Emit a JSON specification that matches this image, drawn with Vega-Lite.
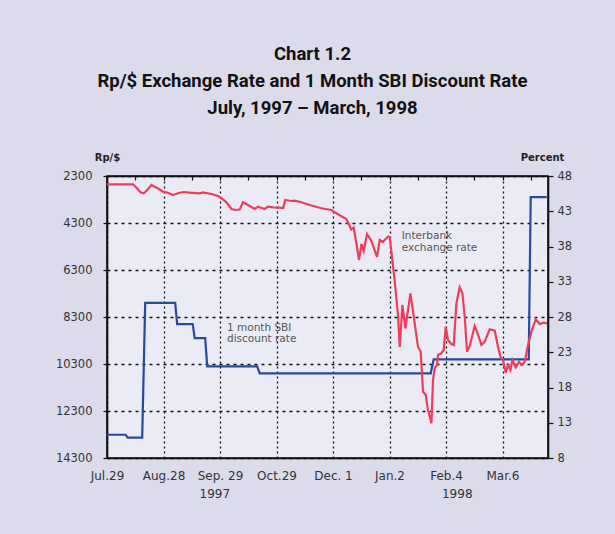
{
  "$schema": "https://vega.github.io/schema/vega-lite/v6.json",
  "width": 441,
  "height": 282,
  "autosize": {"type": "none"},
  "padding": {"left": 107, "top": 176, "right": 67, "bottom": 76},
  "background": "#dcdbec",
  "title": {
    "text": ["Chart 1.2", "Rp/$ Exchange Rate and 1 Month SBI Discount Rate", "July, 1997 – March, 1998"],
    "font": "Roboto",
    "fontSize": 18.5,
    "fontWeight": "bold",
    "color": "#111111",
    "lineHeight": 27,
    "anchor": "middle",
    "frame": "group",
    "dx": -15,
    "offset": 35
  },
  "datasets": {
    "rate": [
      {"t":0,"v":2653},{"t":0.46,"v":2653},{"t":0.531,"v":2823},{"t":0.591,"v":2994},{"t":0.65,"v":3036},{"t":0.697,"v":2938},{"t":0.786,"v":2683},{"t":0.844,"v":2755},{"t":0.92,"v":2853},{"t":0.991,"v":2968},{"t":1.08,"v":3011},{"t":1.168,"v":3108},{"t":1.257,"v":3036},{"t":1.345,"v":2981},{"t":1.464,"v":3011},{"t":1.641,"v":3036},{"t":1.699,"v":3002},{"t":1.848,"v":3066},{"t":1.965,"v":3151},{"t":2.03,"v":3249},{"t":2.113,"v":3419},{"t":2.202,"v":3704},{"t":2.278,"v":3747},{"t":2.349,"v":3725},{"t":2.407,"v":3419},{"t":2.496,"v":3534},{"t":2.614,"v":3704},{"t":2.673,"v":3606},{"t":2.791,"v":3704},{"t":2.85,"v":3606},{"t":2.938,"v":3632},{"t":3.057,"v":3649},{"t":3.119,"v":3662},{"t":3.154,"v":3321},{"t":3.264,"v":3364},{"t":3.322,"v":3351},{"t":3.441,"v":3419},{"t":3.588,"v":3534},{"t":3.795,"v":3674},{"t":3.972,"v":3747},{"t":4.06,"v":3887},{"t":4.149,"v":4015},{"t":4.237,"v":4130},{"t":4.278,"v":4342},{"t":4.322,"v":4576},{"t":4.366,"v":4491},{"t":4.414,"v":5164},{"t":4.46,"v":5874},{"t":4.503,"v":5193},{"t":4.543,"v":5491},{"t":4.602,"v":4768},{"t":4.68,"v":5066},{"t":4.779,"v":5747},{"t":4.827,"v":5023},{"t":4.88,"v":5108},{"t":4.973,"v":4874},{"t":5.004,"v":4896},{"t":5.092,"v":6768},{"t":5.15,"v":8214},{"t":5.181,"v":9576},{"t":5.228,"v":7789},{"t":5.281,"v":8780},{"t":5.37,"v":7291},{"t":5.446,"v":8568},{"t":5.504,"v":9563},{"t":5.552,"v":9776},{"t":5.593,"v":11478},{"t":5.641,"v":11618},{"t":5.681,"v":12257},{"t":5.742,"v":12823},{"t":5.77,"v":10980},{"t":5.8,"v":10482},{"t":5.841,"v":10342},{"t":5.858,"v":9916},{"t":5.918,"v":9844},{"t":5.959,"v":9704},{"t":5.995,"v":8712},{"t":6.035,"v":9278},{"t":6.096,"v":9448},{"t":6.136,"v":9491},{"t":6.184,"v":7717},{"t":6.242,"v":7036},{"t":6.29,"v":7291},{"t":6.331,"v":8287},{"t":6.372,"v":9776},{"t":6.419,"v":9534},{"t":6.508,"v":8683},{"t":6.549,"v":8925},{"t":6.627,"v":9491},{"t":6.685,"v":9350},{"t":6.773,"v":8823},{"t":6.862,"v":8882},{"t":6.92,"v":9563},{"t":6.963,"v":9989},{"t":7.009,"v":10129},{"t":7.057,"v":10670},{"t":7.097,"v":10342},{"t":7.14,"v":10555},{"t":7.175,"v":10129},{"t":7.234,"v":10440},{"t":7.292,"v":10202},{"t":7.335,"v":10342},{"t":7.393,"v":10202},{"t":7.451,"v":9491},{"t":7.512,"v":8925},{"t":7.588,"v":8397},{"t":7.658,"v":8597},{"t":7.729,"v":8542},{"t":7.788,"v":8568}
    ],
    "sbi": [
      {"t":0,"p":11.3},{"t":0.331,"p":11.3},{"t":0.366,"p":10.9},{"t":0.623,"p":10.9},{"t":0.676,"p":30},{"t":1.207,"p":30},{"t":1.242,"p":27},{"t":1.517,"p":27},{"t":1.552,"p":25},{"t":1.738,"p":25},{"t":1.773,"p":21},{"t":2.658,"p":21},{"t":2.703,"p":20},{"t":5.729,"p":20},{"t":5.782,"p":22},{"t":7.464,"p":22},{"t":7.499,"p":45},{"t":7.782,"p":45}
    ],
    "notes": [
      {"t":5.216,"v":4860,"label":"Interbank"},
      {"t":5.216,"v":5345,"label":"exchange rate"},
      {"t":2.124,"v":8760,"label":"1 month SBI"},
      {"t":2.124,"v":9245,"label":"discount rate"}
    ]
  },
  "layer": [
    {
      "data": {"name": "sbi"},
      "mark": {"type": "line", "color": "#2a48a0", "strokeWidth": 2.2, "clip": false},
      "encoding": {
        "x": {
          "field": "t", "type": "quantitative",
          "scale": {"domain": [0, 7.805], "nice": false, "zero": false},
          "axis": {
            "orient": "top", "title": null, "labels": false, "grid": false,
            "values": [0.5,1,1.5,2,2.5,3,3.5,4,4.5,5,5.5,6,6.5,7,7.5],
            "ticks": true, "tickSize": -4, "tickColor": "#111111", "tickWidth": 1.2,
            "domain": true, "domainColor": "#111111", "domainWidth": 1.6
          }
        },
        "y": {
          "field": "p", "type": "quantitative",
          "scale": {"domain": [8, 48], "nice": false, "zero": false},
          "axis": {
            "orient": "right", "values": [8,13,18,23,28,33,38,43,48],
            "grid": false, "tickSize": 5, "tickColor": "#111111", "tickWidth": 1.2,
            "domainColor": "#111111", "domainWidth": 1.6,
            "labelPadding": 4, "labelFont": "DejaVu Sans", "labelFontSize": 11.5, "labelColor": "#333333",
            "title": "Percent", "titleAngle": 0, "titleX": -6, "titleY": -19,
            "titleAlign": "center", "titleBaseline": "middle",
            "titleFont": "DejaVu Sans", "titleFontSize": 10, "titleFontWeight": "bold", "titleColor": "#222222"
          }
        }
      }
    },
    {
      "data": {"name": "rate"},
      "mark": {"type": "line", "color": "#ef3d5b", "strokeWidth": 2.2, "clip": false},
      "encoding": {
        "x": {
          "field": "t", "type": "quantitative",
          "scale": {"domain": [0, 7.805], "nice": false, "zero": false},
          "axis": {
            "orient": "bottom", "title": null,
            "values": [0,1,2,3,4,5,6,7],
            "labelExpr": "['Jul.29','Aug.28','Sep. 29','Oct.29','Dec. 1','Jan.2','Feb.4','Mar.6'][datum.value]",
            "labelFlush": false, "labelOverlap": false, "labelBound": false,
            "ticks": false, "labelPadding": 12,
            "labelFont": "DejaVu Sans", "labelFontSize": 12, "labelColor": "#333333",
            "grid": true, "gridColor": "#111111", "gridDash": [2, 3], "gridWidth": 1.3,
            "domainColor": "#111111", "domainWidth": 1.6
          }
        },
        "y": {
          "field": "v", "type": "quantitative",
          "scale": {"domain": [2300, 14300], "reverse": true, "nice": false, "zero": false},
          "axis": {
            "orient": "left", "values": [2300,4300,6300,8300,10300,12300,14300], "format": "d",
            "grid": true, "gridColor": "#111111", "gridDash": [3, 4], "gridWidth": 1.3,
            "tickSize": 4, "tickColor": "#111111", "tickWidth": 1.2,
            "domainColor": "#111111", "domainWidth": 1.6,
            "labelPadding": 11, "labelFont": "DejaVu Sans", "labelFontSize": 11.5, "labelColor": "#333333",
            "title": "Rp/$", "titleAngle": 0, "titleX": 0, "titleY": -19,
            "titleAlign": "center", "titleBaseline": "middle",
            "titleFont": "DejaVu Sans", "titleFontSize": 10, "titleFontWeight": "bold", "titleColor": "#222222"
          }
        }
      }
    },
    {
      "data": {"name": "notes"},
      "mark": {"type": "text", "align": "left", "baseline": "middle", "font": "DejaVu Sans", "fontSize": 10.5, "color": "#555555"},
      "encoding": {
        "x": {
          "field": "t", "type": "quantitative",
          "scale": {"domain": [0, 7.805], "nice": false, "zero": false},
          "axis": {
            "orient": "bottom", "title": null, "values": [1.9, 6.19],
            "labelExpr": "datum.value < 4 ? '1997' : '1998'",
            "labelFlush": false, "labelOverlap": false, "labelBound": false,
            "ticks": false, "domain": false, "grid": false, "labelPadding": 30,
            "labelFont": "DejaVu Sans", "labelFontSize": 12, "labelColor": "#333333"
          }
        },
        "y": {
          "field": "v", "type": "quantitative",
          "scale": {"domain": [2300, 14300], "reverse": true, "nice": false, "zero": false},
          "axis": null
        },
        "text": {"field": "label"}
      }
    }
  ],
  "resolve": {"scale": {"y": "independent"}, "axis": {"x": "independent", "y": "independent"}},
  "config": {
    "view": {"fill": "#ebebf5", "stroke": "#111111", "strokeWidth": 1.6}
  }
}
